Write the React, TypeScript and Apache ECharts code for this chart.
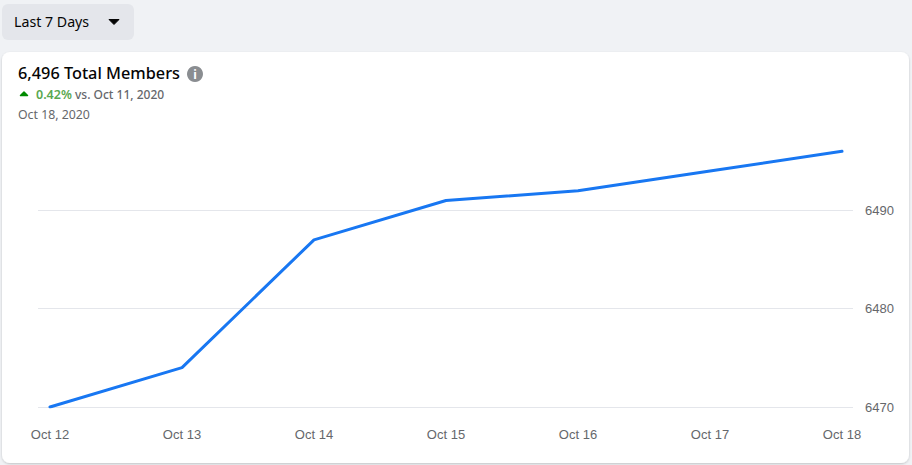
import React, { useEffect, useRef } from "react";
import * as echarts from "echarts";

const categories = ["Oct 12", "Oct 13", "Oct 14", "Oct 15", "Oct 16", "Oct 17", "Oct 18"];
const members = [6470, 6474, 6487, 6491, 6492, 6494, 6496];
const UI_FONT = "'Noto Sans', sans-serif";
const AXIS_FONT = "'Liberation Sans', Arial, sans-serif";

export default function App() {
  const ref = useRef<HTMLDivElement>(null);
  useEffect(() => {
    document.body.style.margin = "0";
    const chart = echarts.init(ref.current!, null, { renderer: "svg" });
    chart.setOption({
      animation: false,
      backgroundColor: "#f0f2f5",
      grid: { left: 38, right: 59, top: 112, bottom: 58 },
      xAxis: {
        type: "value",
        min: -12 / 132,
        max: 6 + 11 / 132,
        axisLine: { show: false },
        axisTick: { show: false },
        splitLine: { show: false },
        axisLabel: {
          customValues: categories.map((_, i) => i),
          formatter: (v: number) => categories[Math.round(v)],
          color: "#65676b",
          fontFamily: AXIS_FONT,
          fontSize: 13,
          margin: 21,
          hideOverlap: false,
        },
      },
      yAxis: {
        type: "value",
        position: "right",
        min: 6470,
        max: 6500,
        interval: 10,
        axisLine: { show: false },
        axisTick: { show: false },
        splitLine: { show: true, showMaxLine: false, lineStyle: { color: "#e4e6eb", width: 1 } },
        axisLabel: {
          showMaxLabel: false,
          formatter: (v: number) => String(v),
          color: "#65676b",
          fontFamily: AXIS_FONT,
          fontSize: 13,
          margin: 12,
          align: "left",
        },
      },
      series: [
        {
          type: "line",
          data: members.map((v, i) => [i, v]),
          showSymbol: false,
          symbol: "none",
          z: 5,
          lineStyle: { color: "#1877f2", width: 3, cap: "round" },
        },
      ],
      graphic: [
        { type: "rect", z: -10, shape: { x: 2, y: 4, width: 132, height: 36, r: 6 }, style: { fill: "#e4e6eb" } },
        { type: "text", x: 14, y: 21, style: { text: "Last 7 Days", font: `14.2px ${UI_FONT}`, fill: "#050505", textVerticalAlign: "middle" } },
        { type: "polygon", shape: { points: [[109, 19.5], [119, 19.5], [114, 24.5]] }, style: { fill: "#050505", stroke: "#050505", lineWidth: 1, lineJoin: "round" } },
        {
          type: "rect",
          z: -10,
          shape: { x: 2, y: 52, width: 907, height: 411, r: 8 },
          style: { fill: "#ffffff", shadowBlur: 2, shadowColor: "rgba(0,0,0,0.2)", shadowOffsetY: 1 },
        },
        { type: "text", x: 18, y: 73, style: { text: "6,496 Total Members", font: `500 16.3px ${UI_FONT}`, fill: "#050505", textVerticalAlign: "middle" } },
        { type: "circle", shape: { cx: 195, cy: 74, r: 8 }, style: { fill: "#8a8d91" } },
        { type: "text", x: 195, y: 74, style: { text: "i", font: `bold 12px ${UI_FONT}`, fill: "#ffffff", textAlign: "center", textVerticalAlign: "middle" } },
        { type: "polygon", shape: { points: [[20.5, 95.5], [27.5, 95.5], [24, 92]] }, style: { fill: "#008a00", stroke: "#008a00", lineWidth: 1.5, lineJoin: "round" } },
        { type: "text", x: 36, y: 94, style: { text: "0.42%", font: `600 12.5px ${UI_FONT}`, fill: "#5aa84f", textVerticalAlign: "middle" } },
        { type: "text", x: 75, y: 94, style: { text: "vs. Oct 11, 2020", font: `500 12px ${UI_FONT}`, fill: "#65676b", textVerticalAlign: "middle" } },
        { type: "text", x: 18, y: 114, style: { text: "Oct 18, 2020", font: `12.3px ${UI_FONT}`, fill: "#65676b", textVerticalAlign: "middle" } },
      ],
    });
    return () => chart.dispose();
  }, []);
  return <div ref={ref} style={{ width: 912, height: 465 }} />;
}
